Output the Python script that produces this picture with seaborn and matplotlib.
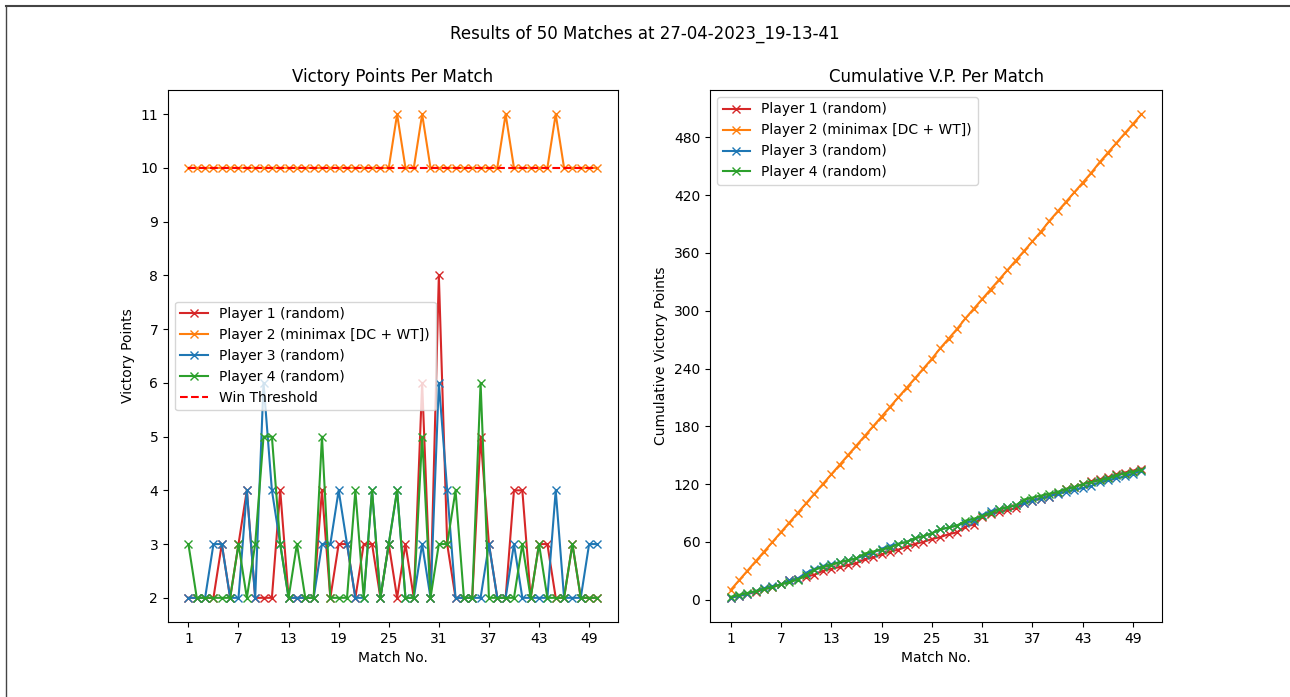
import numpy as np
import matplotlib
matplotlib.use("Agg")
import matplotlib.pyplot as plt
import seaborn as sns
from matplotlib.ticker import MultipleLocator
from matplotlib.lines import Line2D

# Dữ liệu: điểm mỗi trận
matches = list(range(1, 51))
p1 = [2, 2, 2, 2, 3, 2, 3, 4, 2, 2,
      2, 4, 2, 2, 2, 2, 4, 2, 3, 3,
      2, 3, 3, 2, 3, 2, 3, 2, 6, 2,
      8, 3, 2, 2, 2, 5, 3, 2, 2, 4,
      4, 2, 3, 3, 2, 2, 3, 2, 2, 2]
p2 = [10, 10, 10, 10, 10, 10, 10, 10, 10, 10,
      10, 10, 10, 10, 10, 10, 10, 10, 10, 10,
      10, 10, 10, 10, 10, 11, 10, 10, 11, 10,
      10, 10, 10, 10, 10, 10, 10, 10, 11, 10,
      10, 10, 10, 10, 11, 10, 10, 10, 10, 10]
p3 = [2, 2, 2, 3, 3, 2, 2, 4, 2, 6,
      4, 3, 2, 2, 2, 2, 3, 3, 4, 3,
      2, 2, 4, 2, 3, 4, 2, 2, 3, 2,
      6, 4, 2, 2, 2, 2, 3, 2, 2, 3,
      2, 2, 2, 2, 4, 2, 2, 2, 3, 3]
p4 = [3, 2, 2, 2, 2, 2, 3, 2, 3, 5,
      5, 3, 2, 3, 2, 2, 5, 2, 2, 2,
      4, 2, 4, 2, 3, 4, 2, 2, 5, 2,
      3, 3, 4, 2, 2, 6, 2, 2, 2, 2,
      3, 2, 3, 2, 2, 2, 3, 2, 2, 2]
win_threshold = [10] * 50

players = ["Player 1 (random)", "Player 2 (minimax [DC + WT])",
           "Player 3 (random)", "Player 4 (random)"]
colors = ["tab:red", "tab:orange", "tab:blue", "tab:green"]
scores = [p1, p2, p3, p4]

fig = plt.figure(figsize=(12.9, 6.97), dpi=100)
ax1 = fig.add_axes([0.1302, 0.1076, 0.3488, 0.7633])
ax2 = fig.add_axes([0.5504, 0.1076, 0.3504, 0.7633])

# Biểu đồ điểm mỗi trận
for name, col, s in zip(players, colors, scores):
    sns.lineplot(x=matches, y=s, ax=ax1, color=col, marker="x", label=name,
                 markeredgecolor=col, markeredgewidth=1.0, markersize=6)
sns.lineplot(x=matches, y=win_threshold, ax=ax1, color="red", linestyle="--",
             label="Win Threshold")
ax1.set_title("Victory Points Per Match")
ax1.set_xlabel("Match No.")
ax1.set_ylabel("Victory Points")
ax1.set_xticks(range(1, 51, 6))
ax1.yaxis.set_major_locator(MultipleLocator(1))
ax1.legend(loc="center left")

# Biểu đồ cộng dồn
for name, col, s in zip(players, colors, scores):
    sns.lineplot(x=matches, y=np.cumsum(s), ax=ax2, color=col, marker="x",
                 label=name, markeredgecolor=col, markeredgewidth=1.0,
                 markersize=6)
ax2.set_title("Cumulative V.P. Per Match")
ax2.set_xlabel("Match No.")
ax2.set_ylabel("Cumulative Victory Points")
ax2.set_xticks(range(1, 51, 6))
ax2.yaxis.set_major_locator(MultipleLocator(60))
ax2.legend(loc="upper left")

fig.suptitle("Results of 50 Matches at 27-04-2023_19-13-41", y=0.965)

# khung viền ảnh
fig.add_artist(Line2D([0.0045, 1.0], [0.9915, 0.9915], transform=fig.transFigure,
                      color="#444444", linewidth=1.5))
fig.add_artist(Line2D([0.0045, 0.0045], [0.0, 0.9915], transform=fig.transFigure,
                      color="#444444", linewidth=1.0))

fig.savefig("out.png", dpi=100)
